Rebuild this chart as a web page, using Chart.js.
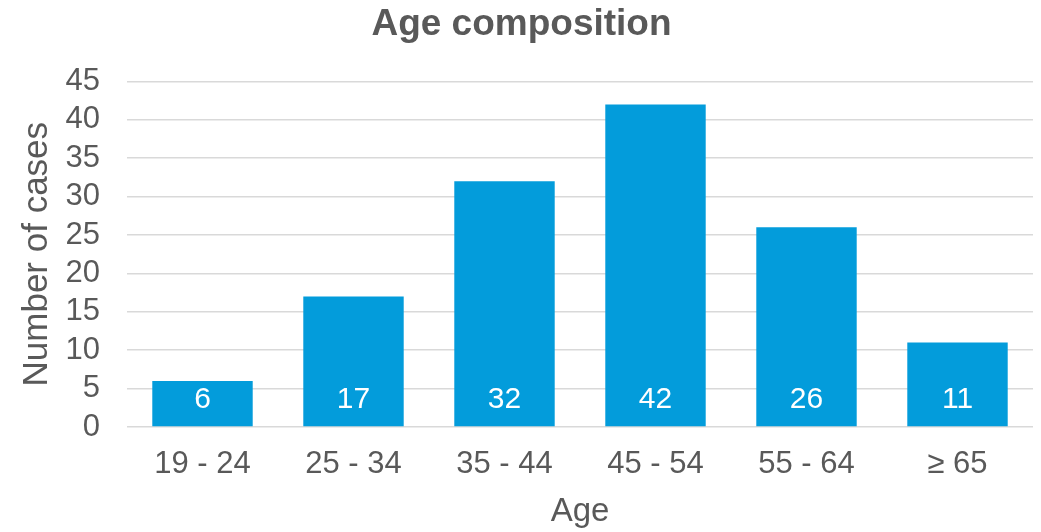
<!DOCTYPE html>
<html>
<head>
<meta charset="utf-8">
<script src="https://cdn.jsdelivr.net/npm/chart.js@4/dist/chart.umd.min.js"></script>
<style>
  html, body { margin: 0; padding: 0; background: #ffffff; }
  #wrap { width: 1041px; height: 532px; }
</style>
</head>
<body>
<div id="wrap"><canvas id="c" width="1041" height="532"></canvas></div>
<script>
// Age groups and number of cases in each
const ageGroups = ['19 - 24', '25 - 34', '35 - 44', '45 - 54', '55 - 64', '\u2265 65'];
const caseCounts = [6, 17, 32, 42, 26, 11];
const yTicks = [0, 5, 10, 15, 20, 25, 30, 35, 40, 45];

const TEXT = '#595959';
const FONT = '"Liberation Sans", Arial, sans-serif';

// White count label inside the bottom of each bar
const barLabels = {
  id: 'barLabels',
  afterDatasetsDraw(chart) {
    const ctx = chart.ctx;
    const meta = chart.getDatasetMeta(0);
    const base = chart.scales.y.getPixelForValue(0);
    ctx.save();
    ctx.fillStyle = '#ffffff';
    ctx.font = '30px ' + FONT;
    ctx.textAlign = 'center';
    ctx.textBaseline = 'middle';
    meta.data.forEach((bar, i) => {
      ctx.fillText(String(chart.data.datasets[0].data[i]), bar.x, base - 27);
    });
    ctx.restore();
  }
};

new Chart(document.getElementById('c'), {
  type: 'bar',
  data: {
    labels: ageGroups,
    datasets: [{
      data: caseCounts,
      backgroundColor: '#039CDB',
      borderWidth: 0,
      barPercentage: 0.665,
      categoryPercentage: 1.0
    }]
  },
  options: {
    responsive: false,
    animation: false,
    devicePixelRatio: 1,
    layout: { padding: { top: 3, right: 8, bottom: 0, left: 10 } },
    plugins: {
      legend: { display: false },
      tooltip: { enabled: false },
      title: {
        display: true,
        text: 'Age composition',
        color: TEXT,
        font: { family: FONT, size: 37, weight: 'bold' },
        padding: { top: 0, bottom: 34 }
      }
    },
    scales: {
      x: {
        afterFit(scale) { scale.height = 105; },
        grid: { display: false, drawTicks: false },
        border: { display: false },
        ticks: { color: TEXT, font: { family: FONT, size: 31 }, padding: 19, autoSkip: false, maxRotation: 0 },
        title: {
          display: true,
          text: 'Age',
          color: TEXT,
          font: { family: FONT, size: 33 },
          padding: { top: 0, bottom: 0 }
        }
      },
      y: {
        min: 0,
        max: 45,
        afterBuildTicks(scale) {
          scale.ticks = yTicks.map(v => ({ value: v }));
        },
        afterFit(scale) { scale.width = 117; },
        grid: { color: '#D9D9D9', lineWidth: 1.5, drawTicks: false },
        border: { display: false },
        ticks: { color: TEXT, font: { family: FONT, size: 31 }, padding: 27, autoSkip: false },
        title: {
          display: true,
          text: 'Number of cases',
          color: TEXT,
          font: { family: FONT, size: 35 },
          padding: { top: 6, bottom: 0 }
        }
      }
    }
  },
  plugins: [barLabels]
});
</script>
</body>
</html>
